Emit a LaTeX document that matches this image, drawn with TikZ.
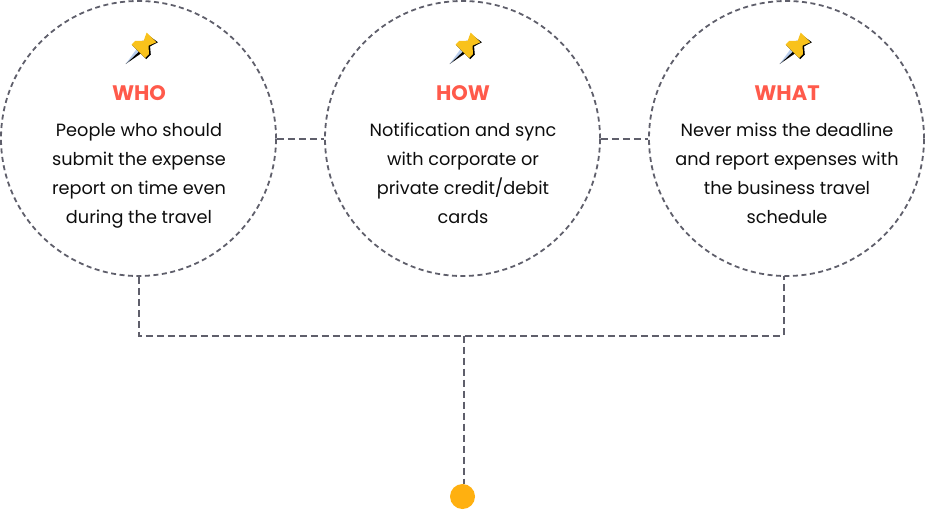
\documentclass[tikz,border=0pt]{standalone}
\usepackage{fontspec}
\setmainfont{Poppins}
\usepackage{xcolor}
\usetikzlibrary{positioning}
\definecolor{linegray}{HTML}{5F5F6B}
\definecolor{headred}{HTML}{FF5A4B}
\definecolor{dotyellow}{HTML}{FFB010}
\definecolor{pinyellow}{HTML}{F9C21B}
\definecolor{pinblue}{HTML}{B9CDEB}
\tikzset{
  ring/.style={circle,draw=linegray,line width=1.8pt,dash pattern=on 5pt off 3.5pt,minimum size=275pt,inner sep=0pt},
  link/.style={draw=linegray,line width=2pt,dash pattern=on 7pt off 4pt},
  head/.style={text=headred,font=\fontsize{21}{24}\selectfont\bfseries},
  body/.style={text=black!95,align=center,font=\fontsize{17.7}{29}\selectfont},
  dot/.style={circle,fill=dotyellow,minimum size=25pt,inner sep=0pt},
  pushpin/.pic={
    \begin{scope}[rotate=45,scale=1.06]
    \fill[black] (0,0) -- (19,0) -- (19,3.5) -- cycle;
    \fill[pinblue] (0,0) -- (19,-3) -- (19,0.5) -- cycle;
    \fill[black] (17,-8) -- (22,-8) -- (28,-3) -- (34,-6) -- (36,7) -- (28,4.5) -- (23,10.5) -- (17,10.5) -- cycle;
    \fill[pinyellow] (17,-9) -- (22,-9) -- (27.5,-3.5) -- (35,-7) -- (35,6) -- (27.5,3) -- (22,9) -- (17,9) -- cycle;
    \end{scope}
  }
}
\begin{document}
\begin{tikzpicture}[x=1pt,y=-1pt]
  \useasboundingbox (0,0) rectangle (925,509);
  % circles
  \node[ring] (who) at (138.5,138.5) {};
  \node[ring] (how) at (462.5,138.5) {};
  \node[ring] (what) at (786.5,138.5) {};
  \node[dot] (end) at (462.5,496.5) {};
  % junctions on the lower line
  \coordinate (whoturn) at (138.5,335.5);
  \coordinate (whatturn) at (783.5,335.5);
  \coordinate (midturn) at (464,335.5);
  \coordinate (whatfoot) at (783.5,276);
  \coordinate (endtop) at (464,484);
  % connectors
  \draw[link] (who) -- (how);
  \draw[link] (how) -- (what);
  \draw[link] (who.south) -- (whoturn) -- (whatturn) -- (whatfoot);
  \draw[link] (midturn) -- (endtop);
  % pins
  \pic at (125.7,64) {pushpin};
  \pic at (449.7,64) {pushpin};
  \pic at (779.7,64) {pushpin};
  % who
  \node[head] (whohead) at (139,93) {WHO};
  \node[body] (whobody) at (139,175.5) {People who should\\submit the expense\\report on time even\\during the travel};
  % how
  \node[head] (howhead) at (463,93) {HOW};
  \node[body] (howbody) at (463,173) {Notification and sync\\with corporate or\\private credit/debit\\cards};
  % what
  \node[head] (whathead) at (787,93) {WHAT};
  \node[body] (whatbody) at (787,173) {Never miss the deadline\\and report expenses with\\the business travel\\schedule};
\end{tikzpicture}
\end{document}
